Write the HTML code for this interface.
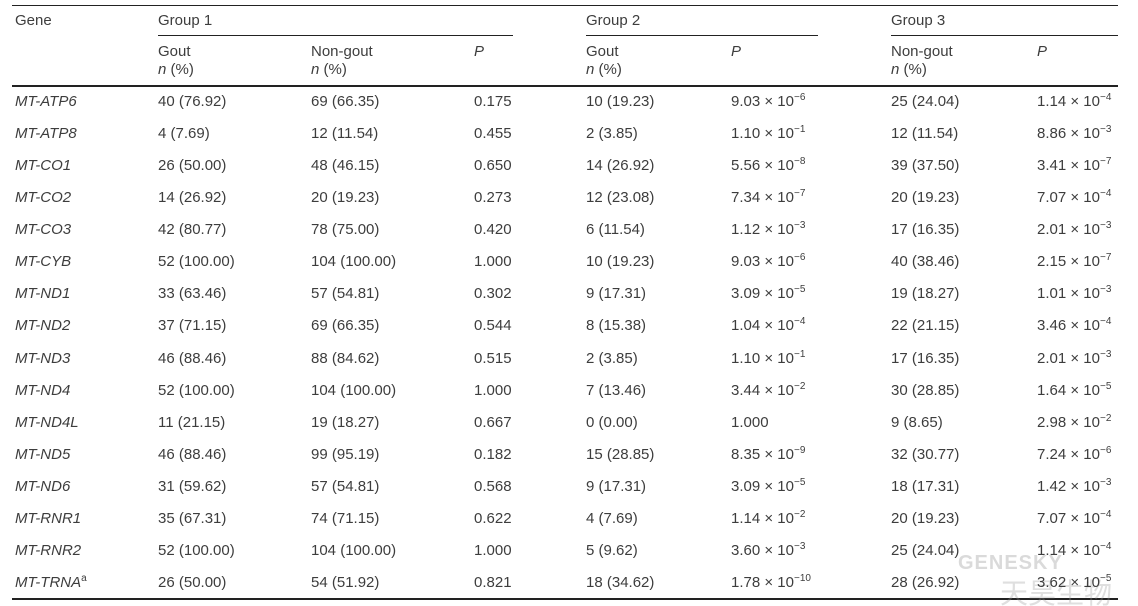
<!DOCTYPE html>
<html><head><meta charset="utf-8">
<style>
html,body{margin:0;padding:0;background:#fff;}
#t{position:relative;width:1138px;height:606px;overflow:hidden;font-family:"Liberation Sans",sans-serif;font-size:15px;color:#3d3d3d;}
.c{position:absolute;white-space:nowrap;line-height:18px;}
.l{position:absolute;background:#222;}
i{font-style:italic;}
sup{font-size:10px;vertical-align:6px;line-height:0;}
.wm{position:absolute;left:958px;top:552px;font-size:20px;font-weight:bold;color:rgba(150,150,150,.35);letter-spacing:1px;}
.wm2{position:absolute;left:1000px;top:572px;font-size:28px;color:rgba(150,150,150,.3);font-family:"Noto Sans CJK SC",sans-serif;}
</style></head><body>
<div id="t">
<div class="l" style="left:12px;top:5px;width:1106px;height:1px"></div>
<div class="c" style="left:15px;top:12px">Gene</div>
<div class="c" style="left:158px;top:12px">Group 1</div>
<div class="c" style="left:586px;top:12px">Group 2</div>
<div class="c" style="left:891px;top:12px">Group 3</div>
<div class="l" style="left:158px;top:35px;width:355px;height:1px"></div>
<div class="l" style="left:586px;top:35px;width:232px;height:1px"></div>
<div class="l" style="left:891px;top:35px;width:227px;height:1px"></div>
<div class="c" style="left:158px;top:43px">Gout<br><i>n</i> (%)</div>
<div class="c" style="left:311px;top:43px">Non-gout<br><i>n</i> (%)</div>
<div class="c" style="left:474px;top:43px"><i>P</i></div>
<div class="c" style="left:586px;top:43px">Gout<br><i>n</i> (%)</div>
<div class="c" style="left:731px;top:43px"><i>P</i></div>
<div class="c" style="left:891px;top:43px">Non-gout<br><i>n</i> (%)</div>
<div class="c" style="left:1037px;top:43px"><i>P</i></div>
<div class="l" style="left:12px;top:85px;width:1106px;height:2px"></div>
<div class="l" style="left:12px;top:598px;width:1106px;height:2px"></div>
<div class="wm">GENESKY</div>
<div class="wm2">天昊生物</div>
</div>
<script>
const genes=["MT-ATP6","MT-ATP8","MT-CO1","MT-CO2","MT-CO3","MT-CYB","MT-ND1","MT-ND2","MT-ND3","MT-ND4","MT-ND4L","MT-ND5","MT-ND6","MT-RNR1","MT-RNR2","MT-TRNA"];
const g1gout=["40 (76.92)","4 (7.69)","26 (50.00)","14 (26.92)","42 (80.77)","52 (100.00)","33 (63.46)","37 (71.15)","46 (88.46)","52 (100.00)","11 (21.15)","46 (88.46)","31 (59.62)","35 (67.31)","52 (100.00)","26 (50.00)"];
const g1non=["69 (66.35)","12 (11.54)","48 (46.15)","20 (19.23)","78 (75.00)","104 (100.00)","57 (54.81)","69 (66.35)","88 (84.62)","104 (100.00)","19 (18.27)","99 (95.19)","57 (54.81)","74 (71.15)","104 (100.00)","54 (51.92)"];
const g1p=["0.175","0.455","0.650","0.273","0.420","1.000","0.302","0.544","0.515","1.000","0.667","0.182","0.568","0.622","1.000","0.821"];
const g2gout=["10 (19.23)","2 (3.85)","14 (26.92)","12 (23.08)","6 (11.54)","10 (19.23)","9 (17.31)","8 (15.38)","2 (3.85)","7 (13.46)","0 (0.00)","15 (28.85)","9 (17.31)","4 (7.69)","5 (9.62)","18 (34.62)"];
const g2p=["9.03|6","1.10|1","5.56|8","7.34|7","1.12|3","9.03|6","3.09|5","1.04|4","1.10|1","3.44|2","1.000","8.35|9","3.09|5","1.14|2","3.60|3","1.78|10"];
const g3non=["25 (24.04)","12 (11.54)","39 (37.50)","20 (19.23)","17 (16.35)","40 (38.46)","19 (18.27)","22 (21.15)","17 (16.35)","30 (28.85)","9 (8.65)","32 (30.77)","18 (17.31)","20 (19.23)","25 (24.04)","28 (26.92)"];
const g3p=["1.14|4","8.86|3","3.41|7","7.07|4","2.01|3","2.15|7","1.01|3","3.46|4","2.01|3","1.64|5","2.98|2","7.24|6","1.42|3","7.07|4","1.14|4","3.62|5"];
const t=document.getElementById('t');
function fmt(s){if(s.indexOf('|')<0)return s;const p=s.split('|');return p[0]+' × 10<sup>−'+p[1]+'</sup>';}
function cell(x,y,html){const d=document.createElement('div');d.className='c';d.style.left=x+'px';d.style.top=y+'px';d.innerHTML=html;t.appendChild(d);return d;}
genes.forEach((g,i)=>{
 const y=93+i*32.07;
 let d=cell(15,y,'<i>'+g+'</i>'+(g==='MT-TRNA'?'<sup>a</sup>':''));
 
 
 d=cell(158,y,g1gout[i]);
 
 
 d=cell(311,y,g1non[i]);
 
 
 d=cell(474,y,g1p[i]);
 
 
 d=cell(586,y,g2gout[i]);
 
 
 d=cell(731,y,fmt(g2p[i]));
 
 
 d=cell(891,y,g3non[i]);
 
 
 d=cell(1037,y,fmt(g3p[i]));
 
 
});
</script>
</body></html>
